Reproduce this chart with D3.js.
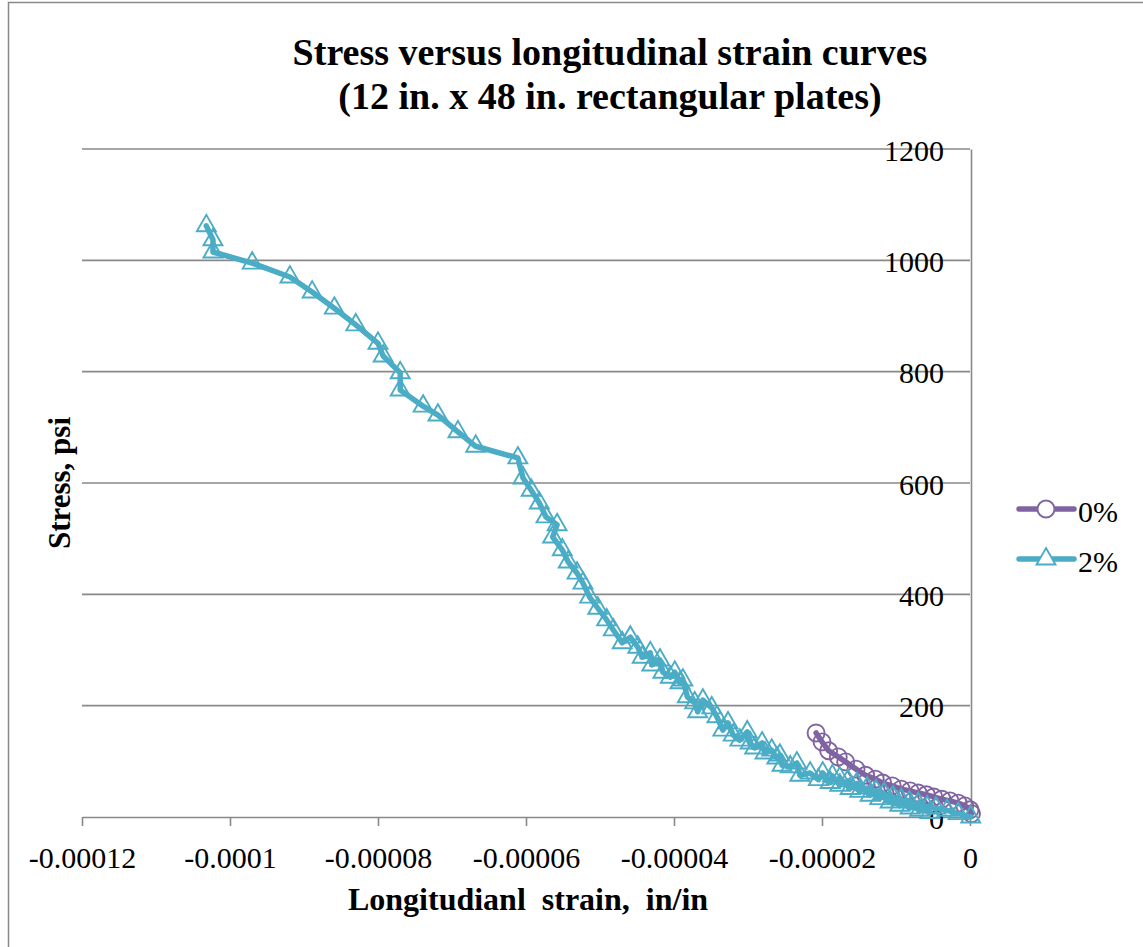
<!DOCTYPE html>
<html>
<head>
<meta charset="utf-8">
<script src="https://cdn.jsdelivr.net/npm/d3@7"></script>
<style>
  body { margin: 0; background: #fff; }
  svg { display: block; }
  text { font-family: "Liberation Serif", "Times New Roman", serif; fill: #000; }
</style>
</head>
<body>
<svg id="chart" width="1143" height="947"></svg>
<script>
// Axis ticks
const xTicks = [-0.00012, -0.0001, -0.00008, -0.00006, -0.00004, -0.00002, 0];
const xTickLabels = ["-0.00012", "-0.0001", "-0.00008", "-0.00006", "-0.00004", "-0.00002", "0"];
const yTicks = [0, 200, 400, 600, 800, 1000, 1200];
const yTickLabels = ["0", "200", "400", "600", "800", "1000", "1200"];

const seriesNames = ["0%", "2%"];

// 0% series: longitudinal strain (in/in) and stress (psi)
const strain0 = [-2.08e-5, -2.00e-5, -1.91e-5, -1.78e-5, -1.68e-5, -1.54e-5, -1.41e-5, -1.28e-5,
  -1.18e-5, -1.05e-5, -0.93e-5, -0.81e-5, -0.70e-5, -0.59e-5, -0.49e-5, -0.38e-5, -0.27e-5,
  -0.16e-5, -0.07e-5, 0.00e-5, 0.02e-5];
const stress0 = [151, 135, 119, 108, 99, 86, 75, 68,
  61, 56, 50, 47, 43, 40, 36, 32, 29,
  25, 20, 13, 6];

// 2% series: longitudinal strain (in/in) and stress (psi)
const strain2 = [-10.32e-5, -10.23e-5, -10.23e-5, -9.70e-5, -9.19e-5, -8.89e-5, -8.59e-5, -8.30e-5,
  -8.00e-5, -7.93e-5, -7.70e-5, -7.70e-5, -7.39e-5, -7.19e-5, -6.92e-5, -6.68e-5,
  -6.11e-5, -6.04e-5, -5.93e-5, -5.82e-5, -5.73e-5, -5.58e-5, -5.64e-5, -5.51e-5,
  -5.43e-5, -5.31e-5, -5.23e-5, -5.14e-5, -5.03e-5, -4.91e-5, -4.82e-5, -4.70e-5,
  -4.59e-5, -4.49e-5, -4.43e-5, -4.32e-5, -4.30e-5, -4.19e-5, -4.15e-5, -4.05e-5,
  -3.99e-5, -3.92e-5, -3.88e-5, -3.82e-5, -3.72e-5, -3.68e-5, -3.61e-5, -3.49e-5,
  -3.42e-5, -3.34e-5, -3.27e-5, -3.20e-5, -3.11e-5, -3.01e-5, -2.97e-5, -2.91e-5,
  -2.81e-5, -2.77e-5, -2.68e-5, -2.61e-5, -2.57e-5, -2.54e-5, -2.43e-5, -2.34e-5,
  -2.30e-5, -2.16e-5, -2.05e-5, -1.99e-5, -1.89e-5, -1.86e-5, -1.76e-5, -1.76e-5,
  -1.62e-5, -1.65e-5, -1.49e-5, -1.53e-5, -1.35e-5, -1.39e-5, -1.22e-5, -1.27e-5,
  -1.08e-5, -1.16e-5, -0.95e-5, -1.04e-5, -0.81e-5, -0.93e-5, -0.68e-5, -0.82e-5,
  -0.54e-5, -0.70e-5, -0.58e-5, -0.46e-5, -0.31e-5, -0.16e-5, 0.01e-5];
const stress2 = [1062, 1037, 1015, 995, 970, 943, 914, 884,
  851, 828, 798, 767, 738, 722, 692, 666,
  645, 609, 587, 564, 539, 525, 503, 480,
  458, 438, 420, 395, 375, 354, 336, 313,
  323, 305, 287, 295, 273, 282, 260, 251,
  260, 241, 246, 216, 205, 189, 210, 196,
  180, 156, 169, 147, 138, 153, 133, 124,
  133, 115, 120, 106, 111, 93, 90, 97,
  75, 79, 67, 79, 62, 74, 57, 70,
  51, 65, 46, 60, 39, 52, 33, 47,
  27, 42, 21, 36, 16, 31, 12, 27,
  8, 24, 18, 16, 12, 6, 0];

const colors = ["#8064A2", "#4BACC6"];
const gridColor = "#898989";
const serif = "'Liberation Serif', 'Times New Roman', serif";

const svg = d3.select("#chart");

// Chart area frame
svg.append("rect")
  .attr("x", 8.5).attr("y", 2.5)
  .attr("width", 1200).attr("height", 1000)
  .attr("fill", "#fff").attr("stroke", gridColor).attr("stroke-width", 1.5);

const x = d3.scaleLinear().domain([-0.00012, 0]).range([82, 970]);
const y = d3.scaleLinear().domain([0, 1200]).range([817, 149]);

// Horizontal gridlines
svg.append("g").selectAll("line")
  .data(yTicks.filter(v => v !== 0))
  .join("line")
  .attr("x1", x(-0.00012)).attr("x2", x(0))
  .attr("y1", d => y(d)).attr("y2", d => y(d))
  .attr("stroke", gridColor).attr("stroke-width", 1.6);

// X axis (at stress = 0), ticks pointing down
const xAxis = d3.axisBottom(x)
  .tickValues(xTicks)
  .tickFormat((d, i) => xTickLabels[i])
  .tickSize(9)
  .tickSizeOuter(0);
const gx = svg.append("g").attr("transform", `translate(0,${y(0)})`).call(xAxis);
gx.attr("font-family", null);
gx.select(".domain").attr("stroke", gridColor).attr("stroke-width", 1.6);
gx.selectAll(".tick line").attr("stroke", gridColor).attr("stroke-width", 1.6);
gx.selectAll(".tick text")
  .attr("y", 51).attr("dy", 0)
  .style("font-family", serif)
  .style("font-size", "30px").attr("fill", "#000");

// Y axis (at strain = 0), labels to its left
const yAxis = d3.axisLeft(y)
  .tickValues(yTicks)
  .tickFormat((d, i) => yTickLabels[i])
  .tickSize(0)
  .tickPadding(27)
  .tickSizeOuter(0);
const gy = svg.append("g").attr("transform", `translate(${x(0) + 1},0)`).call(yAxis);
gy.attr("font-family", null);
gy.select(".domain").attr("stroke", gridColor).attr("stroke-width", 1.6);
gy.selectAll(".tick text")
  .attr("dy", 11)
  .style("font-family", serif)
  .style("font-size", "30px").attr("fill", "#000");

// Series
const series = [
  { name: seriesNames[0], xs: strain0, ys: stress0, color: colors[0], shape: d3.symbolCircle },
  { name: seriesNames[1], xs: strain2, ys: stress2, color: colors[1], shape: d3.symbolTriangle }
];

const line = d3.line().x(d => x(d[0])).y(d => y(d[1]));

function markerPath(shape) {
  if (shape === d3.symbolCircle) return d3.symbol(shape, 227)();
  return d3.symbol(shape, 155)();
}

series.forEach(s => {
  const pts = s.xs.map((v, i) => [v, s.ys[i]]);
  const g = svg.append("g");
  g.append("path")
    .attr("d", line(pts))
    .attr("fill", "none")
    .attr("stroke", s.color)
    .attr("stroke-width", 5.5)
    .attr("stroke-linejoin", "round")
    .attr("stroke-linecap", "round");
  g.selectAll("path.m")
    .data(pts)
    .join("path")
    .attr("class", "m")
    .attr("d", markerPath(s.shape))
    .attr("transform", d => `translate(${x(d[0])},${y(d[1])})`)
    .attr("fill", "none")
    .attr("stroke", s.color)
    .attr("stroke-width", 1.9);
});

// Legend
const legend = svg.append("g");
series.forEach((s, i) => {
  const ly = 509 + i * 50;
  legend.append("line")
    .attr("x1", 1019).attr("x2", 1074).attr("y1", ly).attr("y2", ly)
    .attr("stroke", s.color).attr("stroke-width", 5.5).attr("stroke-linecap", "round");
  legend.append("path")
    .attr("d", markerPath(s.shape))
    .attr("transform", `translate(1046,${ly})`)
    .attr("fill", "#fff").attr("stroke", s.color).attr("stroke-width", 1.9);
  legend.append("text")
    .attr("x", 1078).attr("y", ly + 13)
    .style("font-family", serif)
    .style("font-size", "30px")
    .text(s.name);
});

// Titles
const title = svg.append("text")
  .attr("text-anchor", "middle")
  .style("font-family", serif)
  .style("font-size", "38px").style("font-weight", "bold");
title.append("tspan").attr("x", 610).attr("y", 65).text("Stress versus longitudinal strain curves");
title.append("tspan").attr("x", 610).attr("y", 109).text("(12 in. x 48 in. rectangular plates)");

svg.append("text")
  .attr("x", 528).attr("y", 910)
  .attr("text-anchor", "middle")
  .style("font-family", serif)
  .style("font-size", "32px").style("font-weight", "bold")
  .style("white-space", "pre")
  .text("Longitudianl  strain,  in/in");

svg.append("text")
  .attr("transform", "translate(70,483) rotate(-90)")
  .attr("text-anchor", "middle")
  .style("font-family", serif)
  .style("font-size", "31px").style("font-weight", "bold")
  .text("Stress, psi");
</script>
</body>
</html>
